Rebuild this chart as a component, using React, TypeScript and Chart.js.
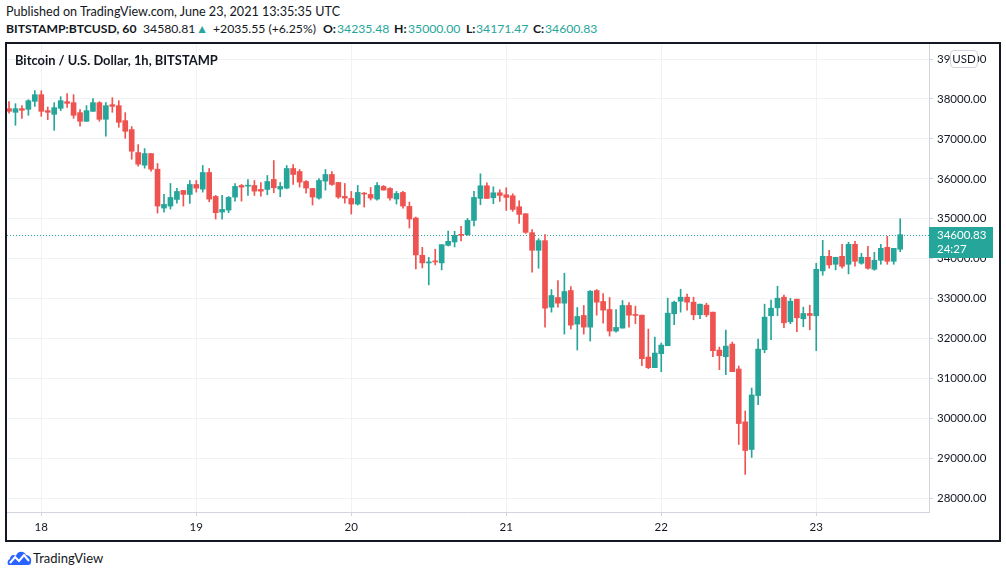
import { useEffect, useRef } from "react";
import { Chart, registerables } from "chart.js";

Chart.register(...registerables);

// hourly candles, hour 0 = Jun 18 00:00 UTC; first candle = Jun 17 19:00
const FIRST_HOUR = -5;

const opens = [
  37758, 37666, 37758, 37741, 37941, 38108, 37708, 37616, 37766, 37933,
  37908, 37658, 37441, 37691, 37908, 37491, 37858, 37833, 37458, 37233,
  36658, 36341, 36633, 36241, 35266, 35316, 35483, 35708, 35608, 35858,
  35741, 36158, 35558, 35166, 35216, 35541, 35833, 35816, 35833, 35733,
  35733, 35983, 35742, 35767, 36258, 36183, 35933, 35758, 35517, 35942,
  36108, 35908, 35558, 35508, 35367, 35642, 35608, 35492, 35808, 35758,
  35492, 35658, 35308, 35017, 34083, 33892, 33933, 33892, 34333, 34417,
  34600, 34600, 34958, 35508, 35825, 35525, 35650, 35600, 35575, 35300,
  35125, 34650, 34208, 34450, 32783, 33025, 32883, 33200, 32358, 32575,
  32283, 33200, 32925, 32725, 32183, 32258, 32825, 32583, 32583, 31533,
  31267, 31617, 31817, 32617, 32933, 33033, 32908, 32592, 32833, 32658,
  31708, 31542, 31858, 31233, 29908, 29217, 30567, 31717, 32567, 32767,
  33033, 32417, 32983, 32492, 32625, 32567, 33692, 34058, 33858, 34058,
  33858, 34358, 33883, 34033, 33733, 33958, 34283, 33933, 34235.48,
];
const highs = [
  37933, 37883, 37833, 37983, 38208, 38208, 37800, 37908, 38058, 38133,
  38108, 37733, 37833, 38008, 37933, 37908, 38033, 37958, 37658, 37308,
  36858, 36758, 36633, 36383, 35608, 35883, 35758, 35708, 35958, 35958,
  36333, 36258, 35583, 35583, 35558, 35883, 35858, 35983, 35958, 35908,
  36083, 36458, 35908, 36333, 36358, 36233, 35958, 35758, 36008, 36233,
  36183, 35908, 35883, 35683, 35833, 35658, 35783, 35908, 35833, 35783,
  35683, 35683, 35417, 35042, 34283, 34033, 34233, 34350, 34692, 34683,
  34808, 35008, 35683, 36125, 35900, 35800, 35725, 35775, 35625, 35450,
  35125, 34725, 34500, 34600, 33225, 33450, 33633, 33300, 32775, 32825,
  33200, 33225, 33125, 33025, 32725, 32950, 32900, 32808, 32583, 32233,
  32033, 31883, 33008, 32933, 33233, 33108, 33033, 32858, 32883, 32658,
  31783, 32208, 31908, 31308, 30183, 30758, 31983, 32858, 32958, 33308,
  33083, 33008, 32983, 32783, 32833, 33883, 34458, 34208, 34033, 34358,
  34408, 34433, 34133, 34308, 34158, 34358, 34558, 34258, 35000.0,
];
const lows = [
  37642, 37341, 37516, 37591, 37816, 37566, 37483, 37216, 37708, 37791,
  37516, 37316, 37441, 37691, 37441, 37066, 37666, 37291, 37016, 36491,
  36316, 36266, 36191, 35141, 35166, 35241, 35391, 35316, 35383, 35666,
  35666, 35425, 34991, 34991, 35150, 35441, 35441, 35583, 35583, 35566,
  35600, 35650, 35550, 35750, 35858, 35792, 35642, 35342, 35492, 35717,
  35833, 35508, 35392, 35117, 35342, 35292, 35467, 35467, 35717, 35467,
  35367, 35267, 34767, 33742, 33767, 33342, 33842, 33717, 34317, 34292,
  34442, 34583, 34817, 35350, 35508, 35375, 35433, 35208, 35183, 34883,
  34633, 33658, 33758, 32283, 32658, 32783, 32108, 32233, 31708, 32108,
  31933, 32583, 32383, 32058, 32158, 32258, 32283, 32367, 31317, 31242,
  31267, 31167, 31817, 32342, 32658, 32708, 32467, 32492, 32542, 31542,
  31217, 31092, 31167, 29342, 28592, 29017, 30342, 31642, 31967, 32567,
  32267, 32367, 32167, 32292, 32217, 31692, 33583, 33758, 33717, 33758,
  33617, 33808, 33858, 33733, 33708, 33858, 33858, 33858, 34171.47,
];
const closes = [
  37692, 37758, 37716, 37958, 38108, 37691, 37666, 37783, 37958, 37891,
  37591, 37441, 37708, 37908, 37491, 37833, 37816, 37416, 37191, 36691,
  36366, 36633, 36241, 35316, 35358, 35533, 35683, 35608, 35858, 35766,
  36158, 35491, 35150, 35233, 35533, 35808, 35791, 35833, 35691, 35691,
  35933, 35775, 35808, 36258, 36108, 35917, 35767, 35542, 35958, 36108,
  35858, 35542, 35517, 35367, 35658, 35617, 35517, 35833, 35717, 35517,
  35633, 35317, 34992, 34092, 33892, 33908, 33917, 34350, 34433, 34583,
  34583, 34958, 35533, 35825, 35508, 35650, 35583, 35533, 35233, 35108,
  34658, 34208, 34450, 32758, 33075, 32883, 33175, 32333, 32550, 32283,
  33183, 32908, 32708, 32183, 32275, 32825, 32583, 32575, 31492, 31267,
  31633, 31833, 32633, 32908, 33033, 32908, 32592, 32858, 32592, 31692,
  31567, 31808, 31167, 29867, 29192, 30583, 31733, 32533, 32758, 33008,
  32392, 32933, 32517, 32625, 32575, 33733, 34058, 33842, 34033, 33808,
  34358, 33933, 34033, 33758, 33958, 34258, 33933, 34258, 34600.83,
];

const dayLabels = ["18", "19", "20", "21", "22", "23"];
const dayTickHours = [0, 24, 48, 72, 96, 120];
const priceTicks = [28000, 29000, 30000, 31000, 32000, 33000, 34000, 35000, 36000, 37000, 38000, 39000];
const countdownLabel = "24:27";

const UP = "#26a69a";
const DOWN = "#ef5350";
const TEXT = "#131722";
const GRID = "#f0f2f5";
const FONT = "Lato, 'Noto Sans', sans-serif";

type Piece = { text: string; left: number; bold?: boolean; teal?: boolean };
const headerPieces: Piece[] = [
  { text: "BITSTAMP:BTCUSD, 60", left: 6, bold: true },
  { text: "34580.81", left: 143 },
  { text: "▲", left: 196, teal: true },
  { text: "+2035.55 (+6.25%)", left: 213 },
  { text: "O:", left: 323, bold: true },
  { text: "34235.48", left: 337, teal: true },
  { text: "H:", left: 394, bold: true },
  { text: "35000.00", left: 408, teal: true },
  { text: "L:", left: 466, bold: true },
  { text: "34171.47", left: 476, teal: true },
  { text: "C:", left: 533, bold: true },
  { text: "34600.83", left: 545, teal: true },
];

export default function App() {
  const ref = useRef<HTMLCanvasElement | null>(null);

  useEffect(() => {
    if (!ref.current) return;
    const hours = opens.map((_, i) => FIRST_HOUR + i);
    const colors = opens.map((o, i) => (closes[i] >= o ? UP : DOWN));
    const last = closes[closes.length - 1];

    const pricePlugin = {
      id: "priceLine",
      beforeDatasetsDraw(chart: any) {
        const { ctx, chartArea, scales } = chart;
        const y = Math.round(scales.y.getPixelForValue(last)) + 0.5;
        ctx.save();
        ctx.strokeStyle = UP;
        ctx.lineWidth = 1;
        ctx.setLineDash([1, 2]);
        ctx.beginPath();
        ctx.moveTo(chartArea.left, y);
        ctx.lineTo(chartArea.right, y);
        ctx.stroke();
        ctx.restore();
      },
      afterDraw(chart: any) {
        const { ctx, chartArea, scales } = chart;
        const y = Math.round(scales.y.getPixelForValue(last));
        const x = chartArea.right;
        ctx.save();
        ctx.fillStyle = UP;
        ctx.fillRect(x, y - 8, 64, 31);
        ctx.fillStyle = "#ffffff";
        ctx.font = `11.5px ${FONT}`;
        ctx.textBaseline = "middle";
        ctx.textAlign = "left";
        ctx.fillText(last.toFixed(2), x + 8, y);
        ctx.fillText(countdownLabel, x + 8, y + 14);
        ctx.restore();
      },
    };

    const chart = new Chart(ref.current, {
      type: "bar",
      data: {
        datasets: [
          {
            label: "wick",
            data: hours.map((h, i) => ({ x: h, y: [lows[i], highs[i]] })) as any,
            backgroundColor: colors,
            barThickness: 1,
            grouped: false,
            order: 2,
          } as any,
          {
            label: "body",
            data: hours.map((h, i) => ({ x: h, y: [opens[i], closes[i]] })) as any,
            backgroundColor: colors,
            barThickness: 5,
            minBarLength: 1,
            grouped: false,
            order: 1,
          } as any,
        ],
      },
      options: {
        animation: false,
        responsive: true,
        maintainAspectRatio: false,
        layout: { padding: 0 },
        plugins: { legend: { display: false }, tooltip: { enabled: false } },
        scales: {
          x: {
            type: "linear",
            min: -5.31,
            max: 137.46,
            offset: false,
            afterBuildTicks: (scale: any) => {
              scale.ticks = dayTickHours.map((v) => ({ value: v }));
            },
            afterFit: (scale: any) => {
              scale.height = 28;
              scale.paddingLeft = 0;
              scale.paddingRight = 0;
            },
            grid: { color: GRID, offset: false, tickLength: 4, tickColor: "#d1d4dc" },
            border: { display: true, color: "#d1d4dc" },
            ticks: {
              autoSkip: false,
              maxRotation: 0,
              padding: 4,
              color: TEXT,
              font: { family: FONT, size: 11.5 },
              callback: (v: any) => {
                const k = dayTickHours.indexOf(Number(v));
                return k >= 0 ? dayLabels[k] : "";
              },
            },
          },
          y: {
            type: "linear",
            position: "right",
            min: 27650,
            max: 39378,
            afterBuildTicks: (scale: any) => {
              scale.ticks = priceTicks.map((v) => ({ value: v }));
            },
            afterFit: (scale: any) => {
              scale.width = 70;
              scale.paddingTop = 0;
              scale.paddingBottom = 0;
            },
            grid: { color: GRID, tickLength: 4, tickColor: "#d1d4dc" },
            border: { display: true, color: "#d1d4dc" },
            ticks: {
              padding: 4,
              color: TEXT,
              font: { family: FONT, size: 11.5 },
              callback: (v: any) => Number(v).toFixed(2),
            },
          },
        },
      },
      plugins: [pricePlugin],
    });
    return () => chart.destroy();
  }, []);

  return (
    <div
      style={{
        position: "fixed",
        left: 0,
        top: 0,
        width: 1006,
        height: 577,
        background: "#ffffff",
        fontFamily: FONT,
        color: TEXT,
        overflow: "hidden",
      }}
    >
      <div style={{ position: "absolute", left: 6, top: 4, fontSize: 12.6, whiteSpace: "nowrap" }}>
        Published on TradingView.com, June 23, 2021 13:35:35 UTC
      </div>
      {headerPieces.map((p, i) => (
        <div
          key={i}
          style={{
            position: "absolute",
            left: p.left,
            top: 21,
            fontSize: 12.2,
            fontWeight: p.bold ? 700 : 400,
            color: p.teal ? UP : TEXT,
            whiteSpace: "nowrap",
          }}
        >
          {p.text}
        </div>
      ))}
      <div style={{ position: "absolute", left: 7, top: 44, width: 992, height: 496 }}>
        <canvas ref={ref} />
      </div>
      <div
        style={{
          position: "absolute",
          left: 5,
          top: 42,
          width: 996,
          height: 500,
          boxSizing: "border-box",
          border: "2px solid #131722",
        }}
      />
      <div
        style={{
          position: "absolute",
          left: 15,
          top: 52,
          fontSize: 12.9,
          fontWeight: 700,
          whiteSpace: "nowrap",
        }}
      >
        Bitcoin / U.S. Dollar, 1h, BITSTAMP
      </div>
      <div
        style={{
          position: "absolute",
          left: 950,
          top: 50,
          width: 28,
          height: 18,
          boxSizing: "border-box",
          border: "1px solid #d1d4dc",
          borderRadius: 4,
          background: "#ffffff",
          fontSize: 11.5,
          lineHeight: "16px",
          textAlign: "center",
        }}
      >
        USD
      </div>
      <svg
        style={{ position: "absolute", left: 7, top: 549 }}
        width={25}
        height={17}
        viewBox="0 0 25 17"
      >
        <path
          d="M2 16 C0 16 0 11 3 10 C3 6 7 5 9 7 C10 2 17 1 19 6 C23 6 25 10 24 13 C24 15 23 16 21 16 Z"
          fill="#2962ff"
        />
        <polyline points="3,14 8,8 12,12 17,6 22,12" fill="none" stroke="#ffffff" strokeWidth={2} />
      </svg>
      <div style={{ position: "absolute", left: 33, top: 550, fontSize: 13, whiteSpace: "nowrap" }}>
        TradingView
      </div>
    </div>
  );
}
